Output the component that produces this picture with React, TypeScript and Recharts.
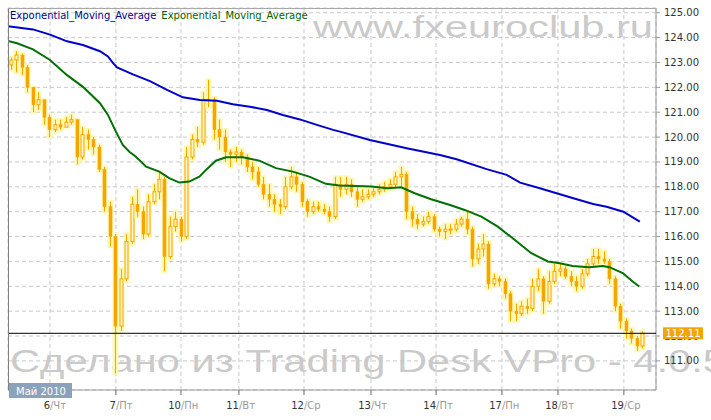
import { ComposedChart, Bar, Line, XAxis, YAxis, CartesianGrid, ReferenceLine } from "recharts";

// hourly bars grouped by 2 hours (hour index from start of 6 May)
const firstOpen = 122.9;
const closes = [
  123.1, 123.3, 122.8, 122.0, 121.3, 121.5, 120.8, 120.3, 120.5, 120.4,
  120.6, 120.7, 119.2, 120.1, 119.9, 119.6, 118.7, 117.2, 116.0, 112.4,
  114.3, 115.8, 117.3, 117.0, 116.1, 117.4, 117.8, 118.3, 115.2, 116.4,
  116.7, 116.0, 119.2, 119.9, 119.8, 121.5, 121.5, 120.3, 120.0, 119.4,
  119.3, 119.4, 119.2, 118.8, 118.6, 118.1, 117.7, 117.5, 117.3, 117.2,
  118.0, 118.4, 118.1, 117.4, 117.0, 117.2, 117.1, 117.0, 116.8, 118.1,
  117.9, 118.1, 117.8, 117.5, 117.6, 117.7, 117.8, 117.9, 118.0, 118.1,
  118.4, 118.5, 117.0, 116.7, 116.5, 116.6, 116.8, 116.3, 116.2, 116.3,
  116.3, 116.5, 116.7, 116.3, 115.1, 115.5, 115.7, 114.1, 114.3, 114.2,
  113.7, 113.0, 112.9, 113.2, 113.1, 114.0, 114.3, 113.4, 114.2, 114.6,
  114.7, 114.4, 114.2, 114.0, 114.5, 114.9, 115.2, 115.1, 115.0, 114.3,
  113.2, 112.6, 112.2, 111.9, 111.6, 112.11,
];
const highs = [
  123.2, 123.45, 123.35, 122.9, 122.0, 121.8, 121.5, 120.9, 120.7, 120.7,
  120.8, 120.9, 120.7, 120.4, 120.3, 120.0, 119.7, 118.8, 117.4, 116.1,
  114.7, 116.1, 117.6, 117.9, 117.2, 117.7, 118.1, 118.6, 118.4, 116.8,
  117.0, 116.8, 119.6, 120.1, 120.4, 121.8, 122.3, 121.6, 120.7, 120.3,
  119.5, 119.6, 119.5, 119.3, 119.0, 118.8, 118.4, 118.1, 117.7, 117.5,
  118.4, 118.8, 118.6, 118.2, 117.5, 117.4, 117.4, 117.3, 117.2, 118.4,
  118.4, 118.4, 118.3, 118.0, 117.9, 117.9, 117.95, 118.1, 118.2, 118.3,
  118.6, 118.8, 118.6, 117.2, 116.9, 116.8, 117.0, 116.9, 116.4, 116.5,
  116.5, 116.7, 116.8, 117.0, 116.4, 115.7, 116.1, 115.8, 114.5, 114.4,
  114.3, 113.8, 113.3, 113.4, 113.5, 114.3, 114.7, 114.4, 114.6, 114.9,
  114.9, 114.8, 114.6, 114.4, 114.7, 115.1, 115.5, 115.5, 115.4, 115.1,
  114.4, 113.3, 112.7, 112.3, 112.0, 112.2,
];
const lows = [
  122.7, 122.6, 122.5, 121.8, 121.0, 121.1, 120.5, 120.0, 120.2, 120.3,
  120.4, 120.5, 118.9, 119.1, 119.5, 119.3, 118.6, 117.0, 115.6, 110.5,
  112.2, 114.2, 115.7, 116.8, 115.9, 116.0, 117.3, 117.5, 114.6, 115.1,
  116.2, 115.8, 115.9, 119.1, 119.6, 119.7, 121.2, 119.9, 119.5, 119.0,
  118.8, 119.0, 118.9, 118.6, 118.3, 118.0, 117.5, 117.2, 117.0, 116.9,
  117.1, 117.9, 117.8, 117.2, 116.8, 116.9, 117.0, 116.9, 116.6, 116.7,
  117.6, 117.7, 117.6, 117.2, 117.4, 117.5, 117.6, 117.7, 117.8, 117.9,
  118.0, 118.0, 116.7, 116.4, 116.3, 116.4, 116.5, 116.2, 116.0, 115.9,
  116.1, 116.2, 116.4, 116.1, 114.8, 114.9, 115.2, 113.9, 114.0, 114.0,
  113.5, 112.6, 112.6, 112.8, 112.9, 113.0, 113.8, 112.9, 113.3, 114.1,
  114.4, 114.3, 114.0, 113.8, 113.9, 114.4, 114.8, 114.9, 114.9, 114.1,
  113.0, 112.3, 111.9, 111.7, 111.4, 111.5,
];
const lastPrice = 112.11;

// EMA lines (hour, value)
const emaSlowHours = [
  0, 9.1, 15.3, 21.5, 27.3, 33.5, 36.4, 38.2, 39.7, 45.5, 51.7, 57.9, 63.7, 69.9, 76.1, 81.9, 88.1, 94.3,
  100.1, 106.3, 112.5, 118.4, 120.9, 131.8, 145.2, 157.3, 163.4, 174.3, 181.6, 186.5, 193.7, 205.9, 213.1,
  218.0, 224.1, 230.1,
];
const emaSlowValues = [
  124.46, 124.33, 124.12, 123.85, 123.7, 123.45, 123.24, 122.98, 122.8, 122.52, 122.25, 121.9, 121.6, 121.49,
  121.46, 121.32, 121.22, 121.09, 120.89, 120.71, 120.49, 120.29, 120.22, 119.88, 119.55, 119.28, 119.11,
  118.71, 118.48, 118.17, 117.94, 117.54, 117.31, 117.2, 117.0, 116.6,
];
const emaFastHours = [
  0, 3.3, 9.1, 15.3, 21.5, 27.3, 33.5, 36.4, 39.3, 41.8, 44.2, 46.6, 50.3, 55.1, 58.7, 62.4, 66.0, 69.7,
  72.1, 75.7, 79.4, 85.5, 91.5, 97.6, 103.7, 109.7, 115.8, 120.6, 132.3, 138.4, 143.2, 148.1, 154.1, 161.0,
  166.3, 172.4, 178.4, 184.5, 190.6, 196.6, 201.0, 205.6, 211.7, 216.6, 219.0, 223.9, 227.5, 229.9,
];
const emaFastValues = [
  123.86, 123.77, 123.53, 123.1, 122.49, 122.02, 121.36, 120.89, 120.22, 119.68, 119.41, 119.21, 118.81,
  118.61, 118.35, 118.17, 118.21, 118.41, 118.68, 119.05, 119.19, 119.19, 119.05, 118.75, 118.61, 118.41,
  118.12, 118.05, 118.01, 117.94, 117.98, 117.74, 117.5, 117.27, 117.07, 116.8, 116.4, 115.87, 115.33,
  115.0, 114.93, 114.82, 114.77, 114.82, 114.77, 114.53, 114.19, 113.99,
];

// axis labels
const dayHours = [15.3, 39.3, 63.0, 84.1, 107.8, 132.2, 155.9, 179.9, 200.3, 224.3];
const dayNums = ["6", "7", "10", "11", "12", "13", "14", "17", "18", "19"];
const dayNames = ["Чт", "Пт", "Пн", "Вт", "Ср", "Чт", "Пт", "Пн", "Вт", "Ср"];
const priceTicks = [111, 112, 113, 114, 115, 116, 117, 118, 119, 120, 121, 122, 123, 124, 125];

const ORANGE = "#F5A500";
const FONT = "'DejaVu Sans', Verdana, sans-serif";
const X_DOMAIN = [0, 236];
const Y_DOMAIN = [109.83, 125.19];

const rows = closes.map((c, i) => ({
  t: 2 * i + 1,
  o: i === 0 ? firstOpen : closes[i - 1],
  h: highs[i],
  l: lows[i],
  c,
}));
const slowData = emaSlowHours.map((t, i) => ({ t, v: emaSlowValues[i] }));
const fastData = emaFastHours.map((t, i) => ({ t, v: emaFastValues[i] }));

function Candle(props: any) {
  const { x, y, width, height, payload } = props;
  if (!payload || x == null) return null;
  const { o, h, l, c } = payload;
  const cx = Math.round(x + width / 2) + 0.5;
  const span = h - l || 1;
  const py = (v: number) => y + ((h - v) / span) * height;
  const top = py(Math.max(o, c));
  const bot = py(Math.min(o, c));
  const up = c >= o;
  return (
    <g>
      <rect x={cx - 3} y={y - 1.5} width={6} height={height + 3} fill="#FFF7B0" />
      <line x1={cx} x2={cx} y1={y} y2={y + height} stroke={ORANGE} strokeWidth={1} />
      <rect
        x={cx - 1.5}
        y={top}
        width={3}
        height={Math.max(1, bot - top)}
        fill={up ? "#FFF6C8" : ORANGE}
        stroke={ORANGE}
        strokeWidth={up ? 1 : 0.5}
      />
    </g>
  );
}

function DayTick(props: any) {
  const { x, y, payload } = props;
  const i = dayHours.indexOf(payload.value);
  if (i < 0) return null;
  return (
    <g fontFamily={FONT} fontSize={10}>
      <text x={x} y={y + 12} textAnchor="end" fill="#333">{dayNums[i]}</text>
      <text x={x} y={y + 12} textAnchor="start" fill="#999">{"/" + dayNames[i]}</text>
    </g>
  );
}

function PriceTag(props: any) {
  const vb = props.viewBox;
  if (!vb) return null;
  const x0 = vb.x + vb.width + 7;
  return (
    <g>
      <rect x={x0} y={vb.y - 6} width={40} height={12} fill={ORANGE} />
      <text x={x0 + 20} y={vb.y + 4} textAnchor="middle" fill="#fff" fontSize={10} fontFamily={FONT}>
        {lastPrice.toFixed(2)}
      </text>
    </g>
  );
}

export default function App() {
  return (
    <div style={{ position: "absolute", left: 0, top: 0, width: 711, height: 420, background: "#fff" }}>
      <svg width={711} height={420} style={{ position: "absolute", left: 0, top: 0 }}>
        <text x={313} y={37} fontSize={30} fontFamily="'Liberation Sans', Arial" fill="#cacaca"
          textLength={340} lengthAdjust="spacingAndGlyphs">www.fxeuroclub.ru</text>
        <text x={10} y={372} fontSize={31} fontFamily="'Liberation Sans', Arial" fill="#cacaca"
          textLength={716} lengthAdjust="spacingAndGlyphs">Сделано из Trading Desk VPro - 4.0.5</text>
      </svg>
      <div style={{ position: "absolute", left: 0, top: 0 }}>
        <ComposedChart width={711} height={420} data={rows} margin={{ top: 8, right: 0, bottom: 0, left: 8 }}>
          <CartesianGrid strokeDasharray="4 3" stroke="#c8c8c8" />
          <XAxis
            dataKey="t"
            type="number"
            domain={X_DOMAIN}
            ticks={dayHours}
            interval={0}
            allowDataOverflow
            height={30}
            tickSize={5}
            axisLine={{ stroke: "#999" }}
            tickLine={{ stroke: "#666" }}
            tick={<DayTick />}
          />
          <YAxis
            orientation="right"
            type="number"
            domain={Y_DOMAIN}
            ticks={priceTicks}
            interval={0}
            allowDataOverflow
            width={55}
            tickSize={4}
            tickMargin={4}
            axisLine={{ stroke: "#999" }}
            tickLine={{ stroke: "#999" }}
            tick={{ fontSize: 10, fill: "#333", fontFamily: FONT }}
            tickFormatter={(v: number) => v.toFixed(2)}
          />
          <Bar dataKey={(d: any) => [d.l, d.h]} shape={Candle} barSize={3} isAnimationActive={false} />
          <Line data={fastData} dataKey="v" type="linear" stroke="#007000" strokeWidth={2} dot={false} isAnimationActive={false} />
          <Line data={slowData} dataKey="v" type="linear" stroke="#0000CC" strokeWidth={2} dot={false} isAnimationActive={false} />
        </ComposedChart>
      </div>
      {/* same plot area, drawn on top so the last-price tag covers the axis label */}
      <div style={{ position: "absolute", left: 0, top: 0 }}>
        <ComposedChart width={711} height={420} data={rows} margin={{ top: 8, right: 55, bottom: 30, left: 8 }}>
          <XAxis dataKey="t" type="number" domain={X_DOMAIN} allowDataOverflow hide />
          <YAxis type="number" domain={Y_DOMAIN} allowDataOverflow hide />
          <ReferenceLine y={lastPrice} stroke="#000" strokeWidth={1} label={<PriceTag />} />
        </ComposedChart>
      </div>
      <svg width={711} height={420} style={{ position: "absolute", left: 0, top: 0, pointerEvents: "none" }}>
        <line x1={8.5} x2={8.5} y1={8} y2={390} stroke="#808080" />
        <line x1={8} x2={656} y1={8.5} y2={8.5} stroke="#a8a8a8" />
        <g fontFamily={FONT} fontSize={10}>
          <text x={10} y={19}>
            <tspan fill="#000090">Exponential_Moving_Average</tspan>
            <tspan fill="#006400" dx={5}>Exponential_Moving_Average</tspan>
          </text>
        </g>
        <rect x={9} y={383} width={63} height={15} fill="#8AA3BB" />
        <text x={16} y={395} fill="#fff" fontSize={10} fontFamily={FONT}>Май 2010</text>
      </svg>
    </div>
  );
}
